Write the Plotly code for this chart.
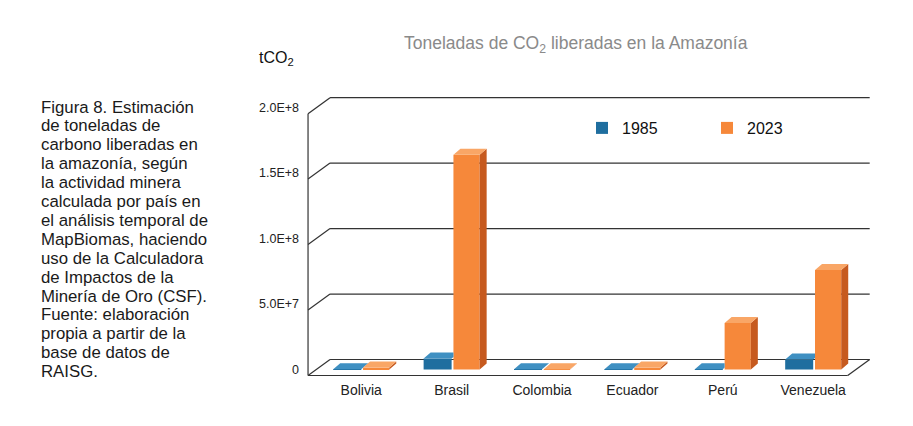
"""
Toneladas de CO2 liberadas en la Amazonía (1985 vs 2023), barras con efecto 3D.
"""
import plotly.graph_objects as go

# --- datos -------------------------------------------------------------
paises = ["Bolivia", "Brasil", "Colombia", "Ecuador", "Perú", "Venezuela"]
co2_1985 = [3.0e5, 8.4e6, 3.0e5, 3.0e5, 3.0e5, 7.6e6]
co2_2023 = [1.5e6, 1.64e8, 3.0e5, 1.5e6, 3.55e7, 7.6e7]
anios = ["1985", "2023"]

ticks_y = [0, 5e7, 1e8, 1.5e8, 2e8]
ticks_y_texto = ["0", "5.0E+7", "1.0E+8", "1.5E+8", "2.0E+8"]

titulo = "Toneladas de CO<sub>2</sub> liberadas en la Amazonía"
unidad = "tCO<sub>2</sub>"
leyenda_figura = [
    "Figura 8. Estimación",
    "de toneladas de",
    "carbono liberadas en",
    "la amazonía, según",
    "la actividad minera",
    "calculada por país en",
    "el análisis temporal de",
    "MapBiomas, haciendo",
    "uso de la Calculadora",
    "de Impactos de la",
    "Minería de Oro (CSF).",
    "Fuente: elaboración",
    "propia a partir de la",
    "base de datos de",
    "RAISG.",
]

# --- estilo --------------------------------------------------------------
FONT = "Liberation Sans, Arial, Helvetica, sans-serif"
AZUL, AZUL_TOP = "#1f6e9f", "#3f90c2"
NARANJA, NARANJA_TOP, NARANJA_LADO = "#f6883a", "#f9a666", "#c65a1f"
LINEA = "#333333"

W, H = 913, 426
M_L, M_R, M_T, M_B = 307, 32, 88, 46
X_RANGE = [-0.6, 5.75]
Y_RANGE = [-0.8e7, 2.15e8]

UX = (W - M_L - M_R) / (X_RANGE[1] - X_RANGE[0])   # px por categoria
UY = (H - M_T - M_B) / (Y_RANGE[1] - Y_RANGE[0])   # px por tonelada


def dx(px):
    return px / UX


def dy(px):
    return px / UY


def paper_x(px):
    return (px - M_L) / (W - M_L - M_R)


def paper_y(py):
    return 1 - (py - M_T) / (H - M_T - M_B)


OFF_85, ANCHO_85 = -0.31, 0.31
OFF_23, ANCHO_23 = 0.02, 0.29
PROF_X, PROF_Y = dx(7), dy(6)          # profundidad de cada barra
FONDO_X, FONDO_Y = dx(14), dy(10)      # pared del fondo
FRENTE_X, FRENTE_Y = dx(-8), dy(-6)    # borde delantero del piso
X_IZQ, X_DER = -0.5, 5.47


def unir(poligonos):
    xs, ys = [], []
    for pts in poligonos:
        for x, y in pts + [pts[0]]:
            xs.append(x)
            ys.append(y)
        xs.append(None)
        ys.append(None)
    return xs, ys


def caras_superiores(valores, offset, ancho, tapados=None):
    polys = []
    for i, v in enumerate(valores):
        xl = i + offset
        xr = xl + ancho
        if tapados and tapados[i] is not None:
            # la barra de al lado es mas alta: se corta lo que queda detras
            xc = tapados[i]
            yc = v + (xc - xr) / PROF_X * PROF_Y
            pts = [(xl, v), (xr, v), (xc, yc), (xc, v + PROF_Y), (xl + PROF_X, v + PROF_Y)]
        else:
            pts = [(xl, v), (xr, v), (xr + PROF_X, v + PROF_Y), (xl + PROF_X, v + PROF_Y)]
        polys.append(pts)
    return unir(polys)


def caras_laterales(valores, offset, ancho):
    polys = []
    for i, v in enumerate(valores):
        xr = i + offset + ancho
        polys.append([(xr, 0), (xr + PROF_X, PROF_Y), (xr + PROF_X, v + PROF_Y), (xr, v)])
    return unir(polys)


def main():
    x = list(range(len(paises)))
    fig = go.Figure()

    fig.add_trace(go.Bar(x=x, y=co2_1985, name=anios[0], offset=OFF_85, width=ANCHO_85,
                         marker=dict(color=AZUL, line=dict(width=0)), hoverinfo="skip"))
    fig.add_trace(go.Bar(x=x, y=co2_2023, name=anios[1], offset=OFF_23, width=ANCHO_23,
                         marker=dict(color=NARANJA, line=dict(width=0)), hoverinfo="skip"))

    recorte = [i + OFF_23 if b >= a + PROF_Y else None
               for i, (a, b) in enumerate(zip(co2_1985, co2_2023))]
    caras = [
        (caras_superiores(co2_1985, OFF_85, ANCHO_85, recorte), AZUL_TOP),
        (caras_laterales(co2_2023, OFF_23, ANCHO_23), NARANJA_LADO),
        (caras_superiores(co2_2023, OFF_23, ANCHO_23), NARANJA_TOP),
    ]
    for (xs, ys), color in caras:
        fig.add_trace(go.Scatter(x=xs, y=ys, mode="none", fill="toself", fillcolor=color,
                                 showlegend=False, hoverinfo="skip"))

    # paredes y piso
    lineas = []
    for v in ticks_y:
        lineas.append((X_IZQ + FONDO_X, v + FONDO_Y, X_DER + FONDO_X, v + FONDO_Y))
        lineas.append((X_IZQ + FRENTE_X, v + FRENTE_Y, X_IZQ + FONDO_X, v + FONDO_Y))
    lineas.append((X_IZQ + FRENTE_X, FRENTE_Y, X_IZQ + FRENTE_X, ticks_y[-1] + FRENTE_Y))
    lineas.append((X_IZQ + FRENTE_X, FRENTE_Y, X_DER + FRENTE_X, FRENTE_Y))
    lineas.append((X_DER + FRENTE_X, FRENTE_Y, X_DER + FONDO_X, FONDO_Y))
    for x0, y0, x1, y1 in lineas:
        fig.add_shape(type="line", xref="x", yref="y", x0=x0, y0=y0, x1=x1, y1=y1,
                      line=dict(color=LINEA, width=1.2), layer="below")

    # textos
    anot = [
        dict(text=titulo, x=paper_x(576), y=paper_y(44), xanchor="center", yanchor="middle",
             font=dict(size=17.5, color="#8a8a8a")),
        dict(text=unidad, x=paper_x(257), y=paper_y(59), xanchor="left", yanchor="middle",
             font=dict(size=16, color="#111111")),
    ]
    for k, linea in enumerate(leyenda_figura):
        anot.append(dict(text=linea, x=paper_x(39), y=paper_y(107 + k * 18.9),
                         xanchor="left", yanchor="middle",
                         font=dict(size=16.8, color="#1a1a1a")))
    for a in anot:
        fig.add_annotation(xref="paper", yref="paper", showarrow=False, **a)

    fig.update_layout(
        width=W, height=H,
        margin=dict(l=M_L, r=M_R, t=M_T, b=M_B, pad=0),
        paper_bgcolor="white", plot_bgcolor="white",
        font=dict(family=FONT, color="#222222"),
        barmode="overlay",
        showlegend=True,
        legend=dict(orientation="h", x=paper_x(582), y=paper_y(128),
                    xanchor="left", yanchor="middle",
                    entrywidth=80, entrywidthmode="pixels",
                    font=dict(size=16, color="#111111"),
                    bgcolor="rgba(0,0,0,0)"),
        xaxis=dict(range=X_RANGE, tickvals=x, ticktext=paises, showgrid=False,
                   zeroline=False, showline=False, ticks="",
                   tickfont=dict(size=14, color="#222222")),
        yaxis=dict(range=Y_RANGE, tickvals=ticks_y, ticktext=ticks_y_texto, showgrid=False,
                   zeroline=False, showline=False, ticks="", ticklabelstandoff=7,
                   tickfont=dict(size=12.5, color="#222222")),
    )

    # sin el margen por defecto del <body> y sin barra de herramientas
    fig.write_html("out.html", config={"displayModeBar": False},
                   post_script="document.body.style.margin = '0';")


if __name__ == "__main__":
    main()
